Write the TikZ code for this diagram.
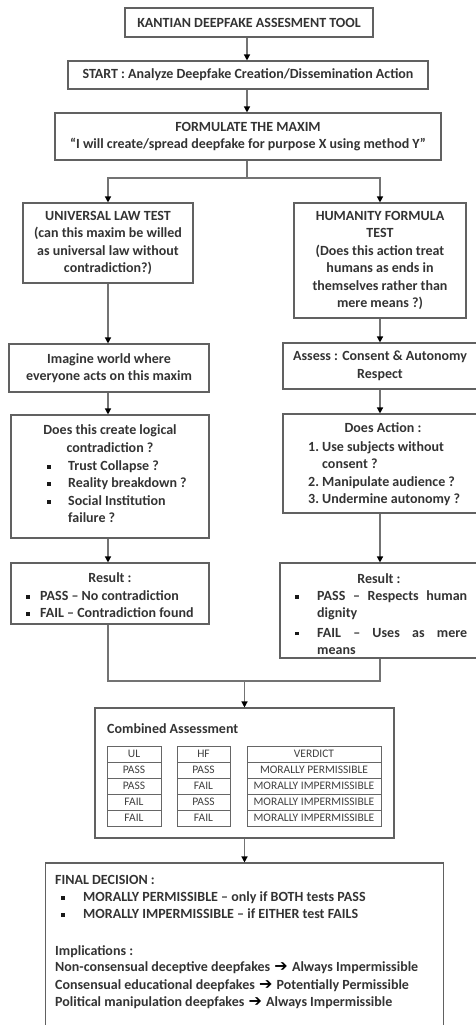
\documentclass[tikz,border=0pt]{standalone}
\usepackage{fontspec}
\setmainfont{Carlito}
\newfontfamily\dejavu{DejaVu Sans}
\usetikzlibrary{arrows.meta}
\newcommand{\mybul}{\rule[2pt]{3.5pt}{3.5pt}}
\newcommand{\myarr}{\hspace{1pt}{\dejavu\bfseries\fontsize{16}{14}\selectfont\color{black}➔}\hspace{1pt}}
\begin{document}
\begin{tikzpicture}[x=1pt,y=-1pt,
 font=\bfseries\fontsize{14}{17.5}\selectfont,
 box/.style={draw=black!62, line width=1.1pt, inner sep=0pt, align=center, text=black!80},
 txt/.style={anchor=base west, inner sep=0pt, text=black!80},
 ctxt/.style={anchor=base, inner sep=0pt, text=black!80},
 bul/.style={anchor=base, inner sep=0pt, text=black!90},
 ln/.style={draw=black!55, line width=1.3pt},
 conn/.style={ln, -{Triangle[width=6pt,length=6pt,color=black]}},
 cell/.style={draw=black!60, line width=0.8pt, minimum height=16pt, inner sep=0pt, font=\mdseries\fontsize{11.5}{13}\selectfont, text=black!75},
]
\useasboundingbox (0,0) rectangle (476,1025);

% boxes
\node[box, minimum width=248pt, minimum height=29pt] (title) at (249,22.5) {KANTIAN DEEPFAKE ASSESMENT TOOL};
\node[box, minimum width=360pt, minimum height=28pt] (start) at (248,75) {START : Analyze Deepfake Creation/Dissemination Action};
\node[box, minimum width=386pt, minimum height=47pt] (maxim) at (248,136.5) {FORMULATE THE MAXIM\\“I will create/spread deepfake for purpose X using method Y”};
\node[box, minimum width=170pt, minimum height=80pt] (ul) at (108,243) {UNIVERSAL LAW TEST\\(can this maxim be willed\\as universal law without\\contradiction?)};
\node[box, minimum width=172pt, minimum height=115pt] (hf) at (380,260.5) {HUMANITY FORMULA\\TEST\\(Does this action treat\\humans as ends in\\themselves rather than\\mere means ?)};
\node[box, minimum width=200pt, minimum height=48pt] (imagine) at (109,368) {Imagine world where\\everyone acts on this maxim};
\node[box, minimum width=194pt, minimum height=46pt] (assess) at (380,366) {Assess : Consent \& Autonomy\\Respect};
\node[box, minimum width=198pt, minimum height=123pt] (contra) at (110,476.5) {};
\node[box, minimum width=194pt, minimum height=99pt] (action) at (380,463.5) {};
\node[box, minimum width=198pt, minimum height=61pt] (ulres) at (110,593.5) {};
\node[box, minimum width=197pt, minimum height=95pt] (hfres) at (378.5,610.5) {};
\node[box, minimum width=299pt, minimum height=130pt] (combined) at (244.5,773) {};
\node[box, minimum width=398pt, minimum height=182pt] (final) at (244.5,954) {};

% contradiction box text
\node[ctxt] (c1) at (110,434.5) {Does this create logical};
\node[ctxt] (c2) at (110,452.5) {contradiction ?};
\node[bul] (cb1) at (49,470.5) {\mybul};
\node[txt] (c3) at (68,470.5) {Trust Collapse ?};
\node[bul] (cb2) at (49,487.5) {\mybul};
\node[txt] (c4) at (68,487.5) {Reality breakdown ?};
\node[bul] (cb3) at (49,505.5) {\mybul};
\node[txt] (c5) at (68,505.5) {Social Institution};
\node[txt] (c6) at (68,522.5) {failure ?};

% action box text
\node[ctxt] (a1) at (383,432.5) {Does Action :};
\node[txt] (a2) at (308,451.5) {1.};
\node[txt] (a3) at (322,451.5) {Use subjects without};
\node[txt] (a4) at (322,468.5) {consent ?};
\node[txt] (a5) at (308,486.5) {2.};
\node[txt] (a6) at (322,486.5) {Manipulate audience ?};
\node[txt] (a7) at (308,503.5) {3.};
\node[txt] (a8) at (322,503.5) {Undermine autonomy ?};

% UL result text
\node[ctxt] (r1) at (110,582.5) {Result :};
\node[bul] (rb1) at (28,600.5) {\mybul};
\node[txt] (r2) at (40,600.5) {PASS – No contradiction};
\node[bul] (rb2) at (28,617.5) {\mybul};
\node[txt] (r3) at (40,617.5) {FAIL – Contradiction found};

% HF result text
\node[ctxt] (h1) at (379,583) {Result :};
\node[bul] (hb1) at (297,600.5) {\mybul};
\node[txt] (h2) at (317,600.5) {\makebox[150pt][l]{PASS\hfill –\hfill Respects\hfill human}};
\node[txt] (h3) at (317,617.5) {dignity};
\node[bul] (hb2) at (297,637) {\mybul};
\node[txt] (h4) at (317,637) {\makebox[150pt][l]{FAIL\hfill –\hfill Uses\hfill as\hfill mere}};
\node[txt] (h5) at (317,654) {means};

% combined assessment
\node[txt] (ct) at (107,733.5) {Combined Assessment};
\foreach \t [count=\i from 0] in {UL,PASS,PASS,FAIL,FAIL}
  \node[cell, minimum width=54pt] (tu\i) at (134,{754+16*\i}) {\t};
\foreach \t [count=\i from 0] in {HF,PASS,FAIL,PASS,FAIL}
  \node[cell, minimum width=53pt] (th\i) at (203.5,{754+16*\i}) {\t};
\foreach \t [count=\i from 0] in {VERDICT,MORALLY PERMISSIBLE,MORALLY IMPERMISSIBLE,MORALLY IMPERMISSIBLE,MORALLY IMPERMISSIBLE}
  \node[cell, minimum width=134pt] (tv\i) at (314,{754+16*\i}) {\t};

% final decision
\node[txt] (f1) at (55,884.5) {FINAL DECISION :};
\node[bul] (fb1) at (63,901.5) {\mybul};
\node[txt] (f2) at (83,901.5) {MORALLY PERMISSIBLE – only if BOTH tests PASS};
\node[bul] (fb2) at (63,918.5) {\mybul};
\node[txt] (f3) at (83,918.5) {MORALLY IMPERMISSIBLE – if EITHER test FAILS};
\node[txt] (f4) at (55,955.5) {Implications :};
\node[txt] (f5) at (55,971.5) {Non-consensual deceptive deepfakes \myarr{} Always Impermissible};
\node[txt] (f6) at (55,989.5) {Consensual educational deepfakes \myarr{} Potentially Permissible};
\node[txt] (f7) at (55,1006.5) {Political manipulation deepfakes \myarr{} Always Impermissible};

% connectors
\draw[conn] (title.south -| 247,0) -- (start.north -| 247,0);
\draw[conn] (start.south -| 247,0) -- (maxim.north -| 247,0);
\coordinate (split) at (247,178);
\draw[ln] (maxim.south -| split) -- (split);
\draw[conn] (split) -| (ul.north);
\draw[conn] (split) -| (hf.north);
\draw[conn] (ul.south) -- (ul.south |- imagine.north);
\draw[conn] (ul.south |- imagine.south) -- (ul.south |- contra.north);
\draw[conn] (ul.south |- contra.south) -- (ul.south |- ulres.north);
\draw[conn] (hf.south) -- (hf.south |- assess.north);
\draw[conn] (hf.south |- assess.south) -- (hf.south |- action.north);
\draw[conn] (hf.south |- action.south) -- (hf.south |- hfres.north);
\coordinate (merge) at (244.5,681);
\draw[ln] (ul.south |- ulres.south) |- (merge) -| (hf.south |- hfres.south);
\draw[conn] (merge) -- (combined.north);
\draw[conn] (combined.south) -- (final.north);
\end{tikzpicture}
\end{document}
